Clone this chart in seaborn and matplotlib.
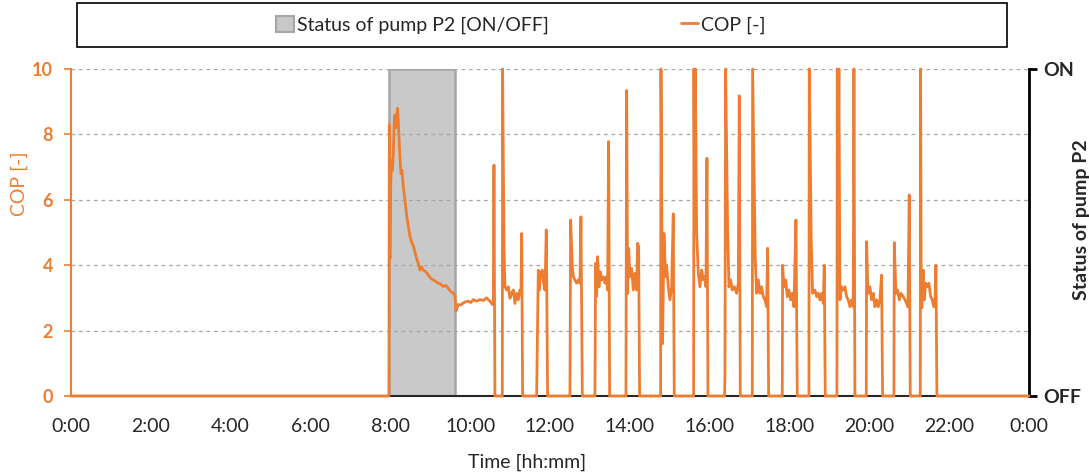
import numpy as np
import pandas as pd
import matplotlib
matplotlib.use("Agg")
import matplotlib.pyplot as plt
from matplotlib.patches import Patch, Rectangle
from matplotlib.lines import Line2D
import seaborn as sns

ORANGE = '#ED7D31'
GREY_FILL = '#c9c9c9'
GREY_EDGE = '#a6a6a6'

# status of pump P2 (hours of day, 1 = ON)
pump_hours = [0.0, 7.97, 9.62, 24.0]
pump_state = [0, 1, 0, 0]

# COP, time in decimal hours
cop_hours = [
    0.0, 7.95,
    # morning run while P2 is on
    7.965, 7.975, 7.99, 8.01, 8.03, 8.05, 8.075, 8.095, 8.116, 8.135, 8.158, 8.18,
    8.20, 8.217, 8.24, 8.267, 8.29, 8.325, 8.345, 8.367, 8.41, 8.45, 8.49, 8.534,
    8.575, 8.617, 8.66, 8.70, 8.743, 8.78, 8.826, 8.89, 8.95, 9.01, 9.076, 9.14,
    9.20, 9.26, 9.327, 9.39, 9.45, 9.51, 9.578, 9.62, 9.645, 9.70, 9.76, 9.83,
    9.89, 9.95, 10.02, 10.08, 10.16, 10.245, 10.33, 10.41, 10.496, 10.554, 10.58,
    10.596, 10.62,
    # cycling of the heat pump
    10.805, 10.813, 10.847, 10.872, 10.914, 10.955, 10.997, 11.039, 11.08, 11.122,
    11.164, 11.206, 11.248, 11.273, 11.29, 11.314,
    11.665, 11.707, 11.732, 11.765, 11.807, 11.84, 11.874, 11.907, 11.94,
    12.50, 12.517, 12.559, 12.584, 12.625, 12.667, 12.709, 12.75, 12.775, 12.81,
    13.126, 13.143, 13.168, 13.193, 13.226, 13.26, 13.293, 13.335, 13.377, 13.418,
    13.443, 13.469, 13.494,
    13.903, 13.92, 13.945, 13.97, 14.003, 14.045, 14.087, 14.128, 14.17, 14.195,
    14.22, 14.245,
    14.771, 14.78, 14.821, 14.855, 14.896, 14.922, 14.963, 15.005, 15.047, 15.088,
    15.113,
    15.598, 15.606, 15.625, 15.64, 15.673, 15.715, 15.756, 15.798, 15.84, 15.882,
    15.907, 15.932, 15.957,
    16.374, 16.383, 16.40, 16.45, 16.483, 16.525, 16.566, 16.617, 16.675, 16.717,
    16.742, 16.767,
    17.068, 17.076, 17.143, 17.176, 17.218, 17.26, 17.301, 17.343, 17.385, 17.427,
    17.452, 17.477,
    17.819, 17.827, 17.861, 17.903, 17.944, 17.986, 18.028, 18.07, 18.111, 18.161,
    18.195,
    18.487, 18.495, 18.545, 18.579, 18.637, 18.679, 18.72, 18.762, 18.804, 18.846,
    18.871, 18.896,
    19.188, 19.197, 19.222, 19.238, 19.263, 19.305, 19.347, 19.389, 19.43, 19.472,
    19.514, 19.556, 19.597, 19.614, 19.639,
    19.923, 19.932, 19.965, 20.015, 20.057, 20.098, 20.14, 20.182, 20.224, 20.265,
    20.307, 20.332,
    20.616, 20.625, 20.667, 20.708, 20.75, 20.792, 20.85, 20.892, 20.934, 20.967,
    21.0, 21.025,
    21.276, 21.284, 21.30, 21.318, 21.351, 21.376, 21.41, 21.451, 21.493, 21.535,
    21.577, 21.618, 21.643, 21.668, 21.693,
    24.0,
]
cop_values = [
    0.0, 0.0,
    0.0, 8.3, 4.2, 6.5, 7.2, 6.9, 7.4, 8.3, 8.6, 8.2, 8.5, 8.8,
    8.4, 7.9, 7.3, 6.8, 6.9, 6.4, 6.2, 6.0, 5.5, 5.2, 4.9, 4.7,
    4.6, 4.4, 4.2, 4.05, 3.85, 3.95, 3.85, 3.8, 3.7, 3.6, 3.55, 3.5,
    3.45, 3.42, 3.35, 3.38, 3.3, 3.2, 3.15, 3.05, 2.6, 2.8, 2.78, 2.85,
    2.88, 2.9, 2.86, 2.95, 2.9, 2.95, 2.92, 3.0, 2.9, 2.8, 2.8,
    7.06, 0.0,
    0.0, 10.0, 4.57, 3.34, 3.24, 3.34, 2.99, 3.14, 3.24, 2.83,
    3.14, 2.94, 3.24, 3.14, 4.97, 0.0,
    0.0, 3.85, 3.24, 3.75, 3.85, 3.45, 3.24, 5.08, 0.0,
    0.0, 5.38, 3.96, 3.65, 3.55, 3.45, 3.55, 3.45, 5.48, 0.0,
    0.0, 4.06, 3.04, 4.26, 3.34, 3.8, 3.55, 3.65, 3.45, 3.65,
    3.24, 7.78, 0.0,
    0.0, 9.34, 3.14, 4.52, 3.65, 3.9, 3.24, 3.75, 3.24, 4.67,
    4.57, 0.0,
    0.0, 10.0, 1.6, 4.97, 3.65, 4.0, 3.34, 2.94, 3.34, 5.57,
    0.0,
    0.0, 10.0, 5.0, 10.0, 4.97, 3.75, 3.34, 3.85, 3.55, 3.65,
    3.34, 7.27, 0.0,
    0.0, 0.6, 10.0, 5.08, 3.34, 3.55, 3.24, 3.34, 3.14, 3.45,
    9.18, 0.0,
    0.0, 10.0, 4.16, 3.14, 3.55, 3.14, 3.34, 3.04, 2.94, 2.73,
    4.52, 0.0,
    0.0, 4.0, 3.34, 3.55, 3.04, 3.24, 2.94, 3.14, 2.73, 5.38,
    0.0,
    0.0, 10.0, 4.72, 3.14, 3.24, 3.04, 3.14, 2.94, 3.14, 2.83,
    4.0, 0.0,
    0.0, 10.0, 7.2, 10.0, 2.94, 3.34, 3.24, 3.34, 3.04, 2.94,
    2.73, 2.94, 2.73, 10.0, 0.0,
    0.0, 4.72, 3.14, 3.34, 2.94, 3.14, 2.73, 2.94, 2.73, 2.94,
    3.7, 0.0,
    0.0, 4.69, 3.14, 3.24, 2.94, 3.14, 3.04, 2.94, 2.83, 2.73,
    6.15, 0.0,
    0.0, 10.0, 2.7, 2.7, 3.85, 2.94, 3.45, 3.34, 3.45, 3.04,
    2.94, 2.73, 2.83, 4.0, 0.0,
    0.0,
]

x_ticks = list(range(0, 25, 2))
x_tick_labels = [f'{h % 24}:00' for h in x_ticks]
cop_ticks = [0, 2, 4, 6, 8, 10]

sns.set_style('white')
plt.rcParams['font.family'] = ['Lato', 'DejaVu Sans']

cop_df = pd.DataFrame({'hours': cop_hours, 'cop': cop_values})

fig = plt.figure(figsize=(10.89, 4.74), dpi=100)
ax = fig.add_axes([71 / 1089, 1 - 396 / 474, 958 / 1089, 327 / 474])
ax2 = ax.twinx()

# pump status on the right axis, behind the COP line
ax2.fill_between(pump_hours, pump_state, step='post',
                 facecolor=GREY_FILL, edgecolor=GREY_EDGE, linewidth=1.8)
ax2.set_ylim(0, 1)
ax2.set_yticks([0, 1])
ax2.set_yticklabels(['OFF', 'ON'], fontsize=14, fontweight='bold')
ax2.tick_params(axis='y', direction='out', length=6, width=2, color='black', pad=4)
ax2.set_ylabel('Status of pump P2', fontsize=14, fontweight='bold')
ax2.yaxis.set_label_coords(1.046, 0.54)
for side in ('top', 'left', 'bottom'):
    ax2.spines[side].set_visible(False)
ax2.spines['right'].set_color('black')
ax2.spines['right'].set_linewidth(2)

ax.set_zorder(ax2.get_zorder() + 1)
ax.patch.set_visible(False)

sns.lineplot(data=cop_df, x='hours', y='cop', ax=ax, color=ORANGE,
             linewidth=2.0, estimator=None, sort=False, zorder=3)
for line in ax.lines:
    line.set_clip_on(False)

ax.set_xlim(0, 24)
ax.set_ylim(0, 10)
ax.set_xticks(x_ticks)
ax.set_xticklabels(x_tick_labels, fontsize=14)
ax.set_yticks(cop_ticks)
ax.set_yticklabels([str(t) for t in cop_ticks], fontsize=13, fontweight='bold')
ax.yaxis.grid(True, linestyle=(0, (3, 3)), color='#a6a6a6', linewidth=0.9)
ax.tick_params(axis='y', colors=ORANGE, direction='out', length=5, width=1.2, pad=8)
ax.tick_params(axis='x', direction='out', length=6, width=1.2, color='#262626', pad=10)

ax.set_xlabel('Time [hh:mm]', fontsize=14)
ax.xaxis.set_label_coords(0.476, -0.175)
ax.set_ylabel('COP [-]', fontsize=14, color=ORANGE)
ax.yaxis.set_label_coords(-0.045, 0.65)

ax.spines['top'].set_visible(False)
ax.spines['right'].set_visible(False)
ax.spines['left'].set_color(ORANGE)
ax.spines['left'].set_linewidth(1.5)
ax.spines['bottom'].set_color('#262626')
ax.spines['bottom'].set_linewidth(1.5)

# legend with a wide frame across the top
fig.patches.append(Rectangle((77 / 1089, 1 - 47 / 474), 930 / 1089, 44 / 474,
                             transform=fig.transFigure, fill=False,
                             edgecolor='black', linewidth=1.2))
handles = [Patch(facecolor=GREY_FILL, edgecolor=GREY_EDGE, linewidth=1.5),
           Line2D([], [], color=ORANGE, linewidth=2)]
fig.legend(handles, ['Status of pump P2 [ON/OFF]', 'COP [-]'],
           loc='center', bbox_to_anchor=(521 / 1089, 1 - 25 / 474), ncol=2,
           frameon=False, fontsize=14, handlelength=0.9, handleheight=0.9,
           handletextpad=0.15, columnspacing=6.8)

fig.savefig('out.png', dpi=100)
